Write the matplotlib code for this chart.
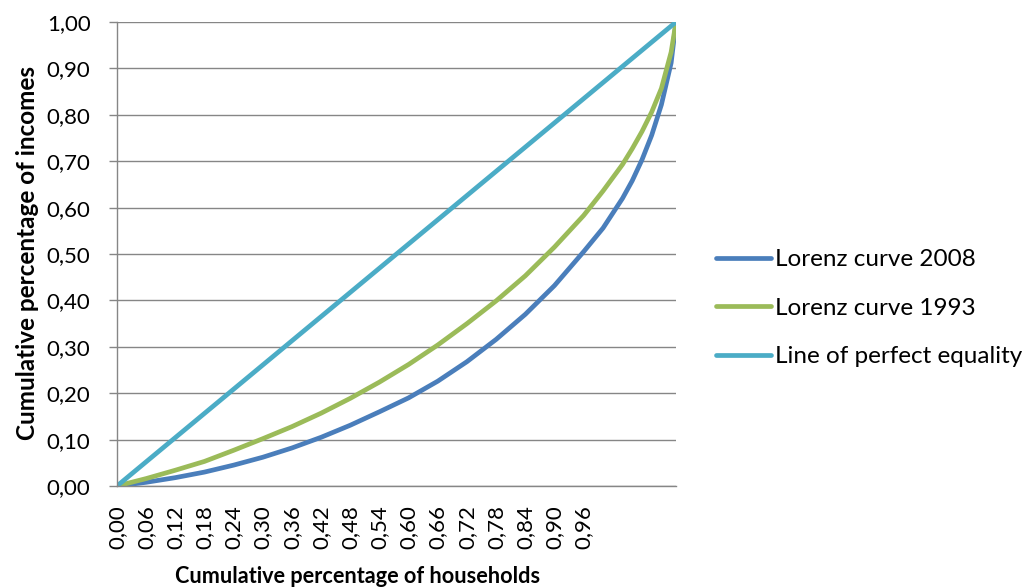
import matplotlib

matplotlib.use("Agg")
import matplotlib.pyplot as plt  # noqa: E402

plt.rcParams["font.family"] = ["Lato", "DejaVu Sans"]

# Category positions (household percentiles) at which the curves are sampled.
# Tick labels are shown every 6th category, 0,00 ... 0,96; the last
# category (115) is the top of the distribution.
positions = [0, 6, 12, 18, 24, 30, 36, 42, 48, 54, 60, 66, 72, 78, 84, 90,
             96, 100, 104, 106, 108, 110, 112, 114, 115]

lorenz_2008 = [0.000, 0.008, 0.018, 0.030, 0.045, 0.062, 0.082, 0.105, 0.131,
               0.160, 0.190, 0.226, 0.268, 0.316, 0.370, 0.432, 0.505, 0.556,
               0.620, 0.658, 0.703, 0.756, 0.822, 0.912, 1.000]

lorenz_1993 = [0.000, 0.016, 0.034, 0.053, 0.077, 0.102, 0.128, 0.157, 0.189,
               0.224, 0.262, 0.304, 0.350, 0.399, 0.453, 0.515, 0.583, 0.636,
               0.693, 0.727, 0.764, 0.806, 0.857, 0.935, 1.000]

equality_ends = [0, 115]
equality_vals = [0.0, 1.0]

xtick_pos = list(range(0, 97, 6))
xtick_labels = ["0,00", "0,06", "0,12", "0,18", "0,24", "0,30", "0,36", "0,42",
                "0,48", "0,54", "0,60", "0,66", "0,72", "0,78", "0,84", "0,90",
                "0,96"]
ytick_vals = [0.0, 0.1, 0.2, 0.3, 0.4, 0.5, 0.6, 0.7, 0.8, 0.9, 1.0]

BLUE = "#4a7ebb"
GREEN = "#9bbb59"
CYAN = "#4bacc6"
GRID = "#868686"

fig = plt.figure(figsize=(10.26, 5.88), dpi=100)
ax = fig.add_axes([117 / 1026, 1 - 486 / 588, 559 / 1026, 464 / 588])

lw = 3.4
ax.plot(positions, lorenz_2008, color=BLUE, lw=lw, label="Lorenz curve 2008",
        solid_capstyle="round", solid_joinstyle="round")
ax.plot(positions, lorenz_1993, color=GREEN, lw=lw, label="Lorenz curve 1993",
        solid_capstyle="round", solid_joinstyle="round")
ax.plot(equality_ends, equality_vals, color=CYAN, lw=lw,
        label="Line of perfect equality", solid_capstyle="round")

ax.set_xlim(0, 115)
ax.set_ylim(0, 1)
ax.set_yticks(ytick_vals)
ax.set_yticklabels([f"{v:.2f}".replace(".", ",") for v in ytick_vals])
ax.set_xticks(xtick_pos)
ax.set_xticklabels(xtick_labels, rotation=90)

ax.grid(axis="y", color=GRID, lw=1.0)
ax.set_axisbelow(True)
for side in ("top", "right"):
    ax.spines[side].set_visible(False)
for side in ("left", "bottom"):
    ax.spines[side].set_color(GRID)
    ax.spines[side].set_linewidth(1.0)

ax.tick_params(axis="y", length=6, width=1.0, color=GRID, pad=13,
               labelsize=16)
ax.tick_params(axis="x", length=0, pad=14, labelsize=16)

ax.set_xlabel("Cumulative percentage of households", fontsize=15.6,
              fontweight="bold")
ax.xaxis.set_label_coords(0.431, -0.194)
ax.set_ylabel("Cumulative percentage of incomes", fontsize=17.5,
              fontweight="bold")
ax.yaxis.set_label_coords(-0.161, 0.502)
ax.xaxis.label.set_va("center")
ax.yaxis.label.set_va("center")

ax.legend(loc="center left", bbox_to_anchor=(1.071, 0.383), frameon=False,
          fontsize=17.5, handlelength=2.26, handletextpad=0.2,
          labelspacing=1.13, borderpad=0, borderaxespad=0)

fig.savefig("out.png", dpi=100)
